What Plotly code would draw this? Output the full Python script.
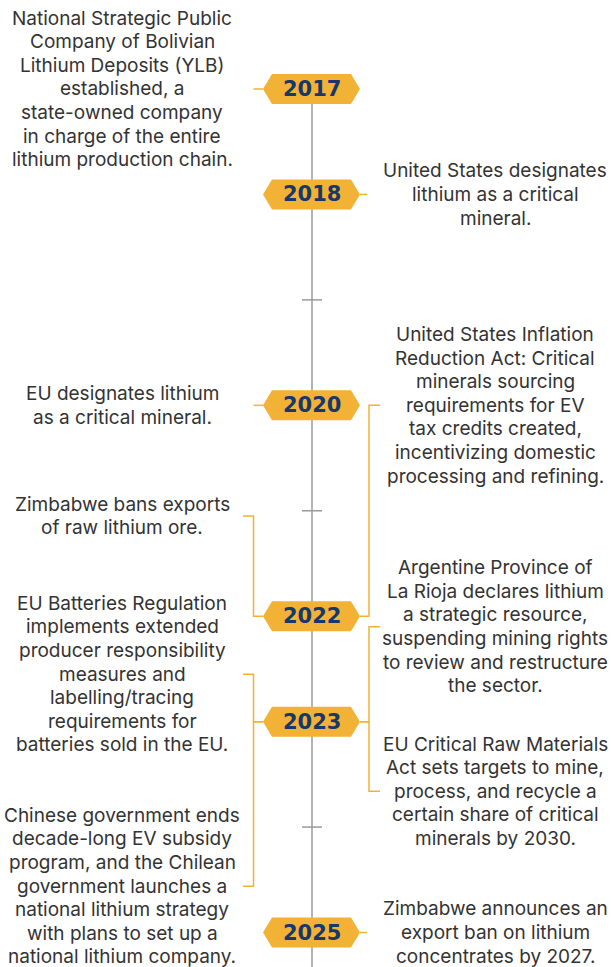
import plotly.graph_objects as go

# ---------------- data ----------------
badge_years = [2017, 2018, 2020, 2022, 2023, 2025]
minor_tick_years = [2019, 2021, 2024]

event_year = [2017, 2018, 2020, 2022, 2022, 2023, 2023, 2023, 2023, 2025]
event_side = ["left", "right", "left", "right", "left", "left", "left", "right", "right", "right"]
event_anchor = [2017.0, 2018.0, 2020.0, 2020.0, 2021.05, 2022.55, 2024.56, 2022.1, 2023.66, 2025.0]
event_text = [
    ["National Strategic Public", "Company of Bolivian", "Lithium Deposits (YLB)", "established, a",
     "state-owned company", "in charge of the entire", "lithium production chain."],
    ["United States designates", "lithium as a critical", "mineral."],
    ["EU designates lithium", "as a critical mineral."],
    ["United States Inflation", "Reduction Act: Critical", "minerals sourcing", "requirements for EV",
     "tax credits created,", "incentivizing domestic", "processing and refining."],
    ["Zimbabwe bans exports", "of raw lithium ore."],
    ["EU Batteries Regulation", "implements extended", "producer responsibility", "measures and",
     "labelling/tracing", "requirements for", "batteries sold in the EU."],
    ["Chinese government ends", "decade-long EV subsidy", "program, and the Chilean",
     "government launches a", "national lithium strategy", "with plans to set up a",
     "national lithium company."],
    ["Argentine Province of", "La Rioja declares lithium", "a strategic resource,",
     "suspending mining rights", "to review and restructure", "the sector."],
    ["EU Critical Raw Materials", "Act sets targets to mine,", "process, and recycle a",
     "certain share of critical", "minerals by 2030."],
    ["Zimbabwe announces an", "export ban on lithium", "concentrates by 2027."],
]

# ---------------- style ----------------
W, H = 611, 967
GOLD = "#F2B236"
NAVY = "#16386B"
GRAY = "#9B9B9B"
TEXT = "#333333"
CX = 312
Y_TOP, Y_BOT = 2016.156, 2025.327  # axis range (reversed)
PX_PER_YEAR = H / (Y_BOT - Y_TOP)
LINE_H = 23.6 / PX_PER_YEAR

fig = go.Figure()
shapes = []
annotations = []

# central line
shapes.append(dict(type="line", xref="x", yref="y", x0=CX, x1=CX, y0=2017, y1=Y_BOT,
                   line=dict(color=GRAY, width=1.5), layer="below"))
# minor ticks
for yr in minor_tick_years:
    shapes.append(dict(type="line", xref="x", yref="y", x0=CX - 10, x1=CX + 10, y0=yr, y1=yr,
                       line=dict(color=GRAY, width=1.5), layer="below"))

# connectors
L_BADGE, R_BADGE = 263, 360
L_BR, R_BR = 253.5, 369
L_OUT, R_OUT = 243, 380
for yr, side, anc in zip(event_year, event_side, event_anchor):
    if side == "left":
        edge, br, out = L_BADGE, L_BR, L_OUT
    else:
        edge, br, out = R_BADGE, R_BR, R_OUT
    if abs(anc - yr) < 1e-6:
        stub_end = L_BR if side == "left" else 367
        shapes.append(dict(type="line", xref="x", yref="y", x0=edge, x1=stub_end, y0=yr, y1=yr,
                           line=dict(color=GOLD, width=1.5)))
    else:
        shapes.append(dict(type="path", xref="x", yref="y",
                           path=f"M {out} {anc} L {br} {anc} L {br} {yr} L {edge} {yr}",
                           line=dict(color=GOLD, width=1.5)))

# badges
for yr in badge_years:
    shapes.append(dict(type="path", xref="x", yref="y", xsizemode="pixel", ysizemode="pixel",
                       xanchor=CX, yanchor=yr,
                       path="M -49 0 L -40 -15 L 39 -15 L 48 0 L 39 15 L -40 15 Z",
                       fillcolor=GOLD, line=dict(width=0)))
    annotations.append(dict(x=CX, y=yr, xref="x", yref="y", text=str(yr), showarrow=False,
                            xanchor="center", yanchor="middle",
                            font=dict(family="DejaVu Sans", size=21, color=NAVY, weight="bold")))

# event texts (one annotation per line for exact line spacing)
for lines, side, anc in zip(event_text, event_side, event_anchor):
    n = len(lines)
    for i, ln in enumerate(lines):
        annotations.append(dict(x=122 if side == "left" else 495,
                                y=anc + (i - (n - 1) / 2) * LINE_H, xref="x", yref="y",
                                text=ln, showarrow=False, align="center",
                                xanchor="center", yanchor="middle",
                                font=dict(family="Inter", size=19, color=TEXT)))

fig.update_layout(
    width=W, height=H, margin=dict(l=0, r=0, t=0, b=0),
    paper_bgcolor="white", plot_bgcolor="white",
    xaxis=dict(range=[0, W], visible=False, fixedrange=True),
    yaxis=dict(range=[Y_BOT, Y_TOP], visible=False, fixedrange=True),
    shapes=shapes, annotations=annotations, showlegend=False,
)
fig.write_html("out.html", config={"displayModeBar": False},
               post_script="document.body.style.margin='0';document.body.style.overflow='hidden';")
